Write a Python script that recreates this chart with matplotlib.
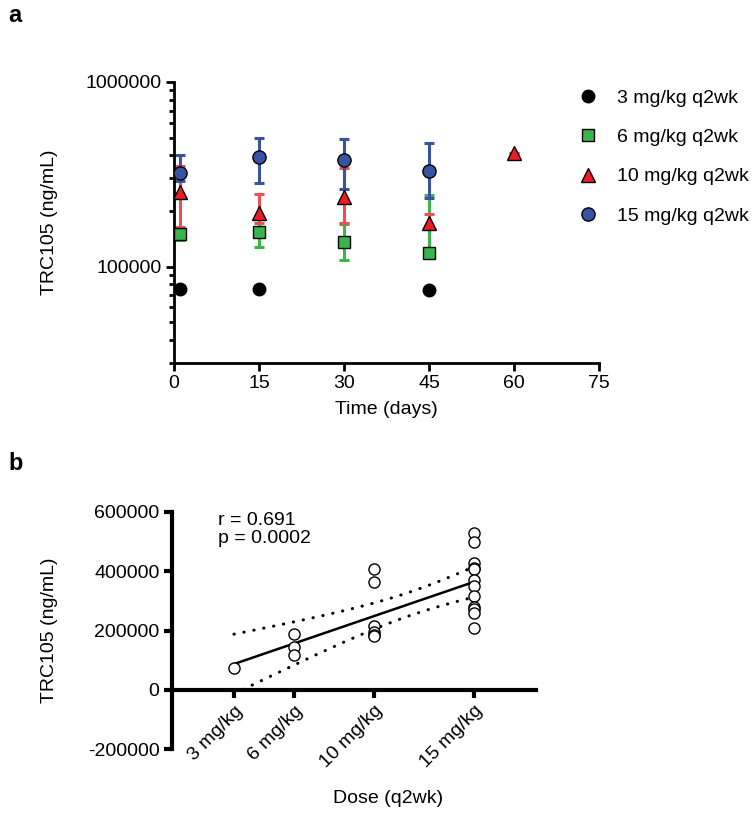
import matplotlib
matplotlib.use("Agg")
import matplotlib.pyplot as plt
import numpy as np
from matplotlib.lines import Line2D
from matplotlib.ticker import LogLocator, FixedLocator, FuncFormatter, NullFormatter

plt.rcParams['font.family'] = ['Liberation Sans', 'DejaVu Sans']
plt.rcParams['font.size'] = 14

# ---- panel a: serum levels over time (mean with error bars) ----
days_3 = [1, 15, 45]
mean_3 = [76000, 76000, 75000]

days_6 = [1, 15, 30, 45]
mean_6 = [150000, 154000, 136000, 119000]
low_6 = [140000, 128000, 108000, 112000]
high_6 = [162000, 182000, 169000, 245000]

days_10 = [1, 15, 30, 45, 60]
mean_10 = [254000, 196000, 239000, 173000, 413000]
low_10 = [164000, 172000, 172000, 164000, 413000]
high_10 = [351000, 248000, 343000, 193000, 413000]

days_15 = [1, 15, 30, 45]
mean_15 = [322000, 393000, 379000, 330000]
low_15 = [290000, 284000, 264000, 235000]
high_15 = [403000, 498000, 492000, 468000]

series_labels = ['3 mg/kg q2wk', '6 mg/kg q2wk', '10 mg/kg q2wk', '15 mg/kg q2wk']

# ---- panel b: individual values vs dose ----
dose_ticks = [3, 6, 10, 15]
dose_labels = ['3 mg/kg', '6 mg/kg', '10 mg/kg', '15 mg/kg']
dose_pts = [3,
            6, 6, 6,
            10, 10, 10, 10, 10, 10,
            15, 15, 15, 15, 15, 15, 15, 15, 15, 15, 15, 15]
conc_pts = [74000,
            189000, 145000, 118000,
            408000, 364000, 216000, 196000, 186000, 182000,
            530000, 499000, 428000, 412000, 408000, 371000,
            351000, 317000, 280000, 273000, 260000, 209000]

blue = '#3953A4'
green = '#39B54A'
red = '#ED1C24'
red_bar = '#F04E54'

fig = plt.figure(figsize=(7.54, 8.19), dpi=100)

# panel a
ax = fig.add_axes([174 / 754, 1 - 363 / 819, 425 / 754, 281 / 819])


def err(mean, low, high):
    m = np.array(mean, float)
    return [m - np.array(low), np.array(high) - m]


eb_kw = dict(fmt='none', elinewidth=2.2, capsize=3.6, capthick=2.2, zorder=2)
ax.errorbar(days_6, mean_6, yerr=err(mean_6, low_6, high_6), ecolor=green, **eb_kw)
ax.errorbar(days_10, mean_10, yerr=err(mean_10, low_10, high_10), ecolor=red_bar, **eb_kw)
ax.errorbar(days_15, mean_15, yerr=err(mean_15, low_15, high_15), ecolor=blue, **eb_kw)

ax.plot(days_3, mean_3, 'o', ms=9, color='black', zorder=3)
ax.plot(days_6, mean_6, 's', ms=9, mfc=green, mec='black', mew=1, zorder=3)
ax.plot(days_10, mean_10, '^', ms=10, mfc=red, mec='black', mew=1, zorder=3)
ax.plot(days_15, mean_15, 'o', ms=9.5, mfc=blue, mec='black', mew=1, zorder=4)

ax.set_yscale('log')
ax.set_ylim(30000, 1000000)
ax.set_xlim(0, 75)
ax.set_xticks([0, 15, 30, 45, 60, 75])
ax.yaxis.set_major_locator(FixedLocator([100000, 1000000]))
ax.yaxis.set_major_formatter(FuncFormatter(lambda v, p: f'{int(round(v))}'))
ax.yaxis.set_minor_locator(LogLocator(base=10, subs=np.arange(2, 10)))
ax.yaxis.set_minor_formatter(NullFormatter())

for s in ['top', 'right']:
    ax.spines[s].set_visible(False)
for s in ['left', 'bottom']:
    ax.spines[s].set_linewidth(2)
ax.tick_params(which='major', length=6, width=2, pad=3)
ax.tick_params(which='minor', length=3.5, width=2)
ax.set_xlabel('Time (days)')
ax.xaxis.set_label_coords(0.5, -0.135)
ax.set_ylabel('TRC105 (ng/mL)')
ax.yaxis.set_label_coords(-0.273, 0.5)

handles = [
    Line2D([], [], ls='none', marker='o', ms=9, color='black'),
    Line2D([], [], ls='none', marker='s', ms=9, mfc=green, mec='black', mew=1),
    Line2D([], [], ls='none', marker='^', ms=10, mfc=red, mec='black', mew=1),
    Line2D([], [], ls='none', marker='o', ms=9.5, mfc=blue, mec='black', mew=1),
]
fig.legend(handles, series_labels, loc='upper left', bbox_to_anchor=(578 / 754, 1 - 89 / 819),
           frameon=False, borderpad=0, borderaxespad=0, handlelength=1.0,
           handletextpad=1.0, labelspacing=1.12)

fig.text(8 / 754, 1 - 15 / 819, 'a', fontsize=17, fontweight='bold', va='center')
fig.text(8 / 754, 1 - 463 / 819, 'b', fontsize=17, fontweight='bold', va='center')

# panel b
bx = fig.add_axes([172 / 754, 1 - 749 / 819, 364 / 754, 237 / 819])
bx.spines['bottom'].set_position(('data', 0))
x = np.array(dose_pts, float)
y = np.array(conc_pts, float)
slope, icpt = np.polyfit(x, y, 1)
n = len(x)
resid = y - (slope * x + icpt)
s_err = np.sqrt(np.sum(resid ** 2) / (n - 2))
t_crit = 2.086  # t(0.975, df=20)
xx = np.linspace(3, 15, 100)
yy = slope * xx + icpt
ci = t_crit * s_err * np.sqrt(1 / n + (xx - x.mean()) ** 2 / np.sum((x - x.mean()) ** 2))

bx.plot(xx, yy, color='black', lw=1.8, zorder=3)
bx.plot(xx, yy + ci, color='black', lw=2.2, ls=(0, (0.1, 3.2)), dash_capstyle='round', zorder=3)
bx.plot(xx, yy - ci, color='black', lw=2.2, ls=(0, (0.1, 3.2)), dash_capstyle='round', zorder=3)
bx.plot(x, y, 'o', ms=8, mfc='white', mec='black', mew=1, zorder=4)

bx.text(2.2, 600000, 'r = 0.691\np = 0.0002', va='top', ha='left', linespacing=1.1)

bx.set_xlim(-0.1, 18.1)
bx.set_ylim(-200000, 600000)
bx.set_yticks([-200000, 0, 200000, 400000, 600000])
bx.yaxis.set_major_formatter(FuncFormatter(lambda v, p: f'{int(round(v))}'))
bx.set_xticks(dose_ticks)
bx.set_xticklabels(dose_labels)
for lbl in bx.get_xticklabels():
    lbl.set_rotation(45)
    lbl.set_ha('right')
    lbl.set_va('top')
    lbl.set_rotation_mode('anchor')
for s in ['top', 'right']:
    bx.spines[s].set_visible(False)
for s in ['left', 'bottom']:
    bx.spines[s].set_linewidth(3)
bx.tick_params(length=6, width=3, pad=3)
bx.set_xlabel('Dose (q2wk)')
bx.xaxis.set_label_coords(0.593, -0.175)
bx.set_ylabel('TRC105 (ng/mL)')
bx.yaxis.set_label_coords(-0.313, 0.5)

fig.savefig('out.png', dpi=100)
